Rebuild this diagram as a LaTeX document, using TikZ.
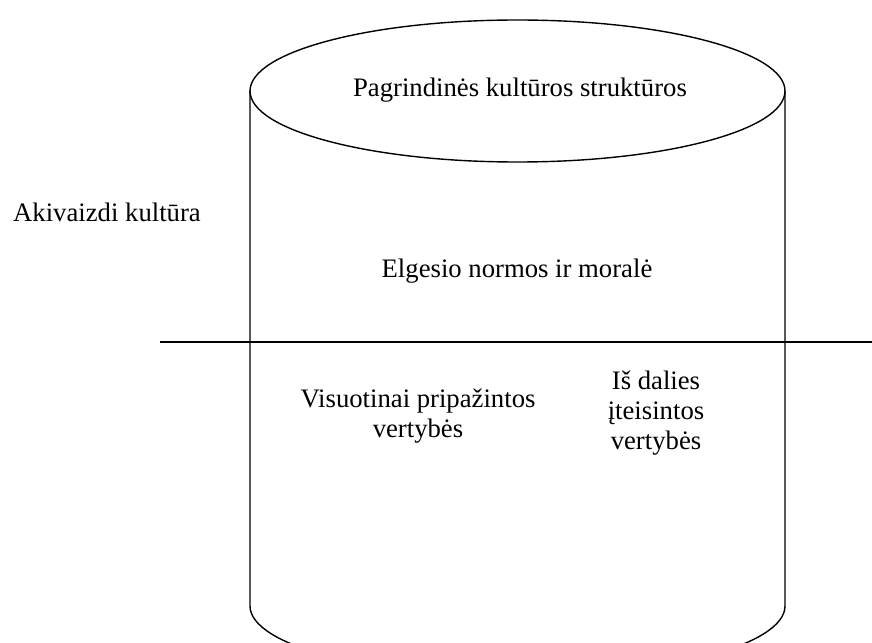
\documentclass[tikz,border=0pt]{standalone}
\usepackage{fontspec}
\setmainfont{Liberation Serif}
\begin{document}
\begin{tikzpicture}[x=1bp,y=-1bp,
  outline/.style={line width=1.4bp,black},
  label/.style={font=\fontsize{26.7bp}{30bp}\selectfont,inner sep=0pt,align=center}]
  \useasboundingbox (0,0) rectangle (872,643);
  \clip (0,0) rectangle (872,643);
  % cylinder: top ellipse, walls and the lower rim
  \draw[outline] (517.5,91) ellipse [x radius=267.5, y radius=71];
  \draw[outline] (250,91) -- (250,606)
    arc[start angle=180, end angle=0, x radius=267.5, y radius=71]
    -- (785,91);
  % dividing line
  \coordinate (lineL) at (160,342);
  \coordinate (lineR) at (872,342);
  \draw[outline] (lineL) -- (lineR);
  % texts
  \node[label,anchor=base] (top) at (520,97) {Pagrindinės kultūros struktūros};
  \node[label,anchor=base west] (vis) at (13,222) {Akivaizdi kultūra};
  \node[label,anchor=base] (norm) at (517,277) {Elgesio normos ir moralė};
  \node[label] (common) at (418,416) {Visuotinai pripažintos\\vertybės};
  \node[label] (partial) at (656,413) {Iš dalies\\įteisintos\\vertybės};
\end{tikzpicture}
\end{document}
